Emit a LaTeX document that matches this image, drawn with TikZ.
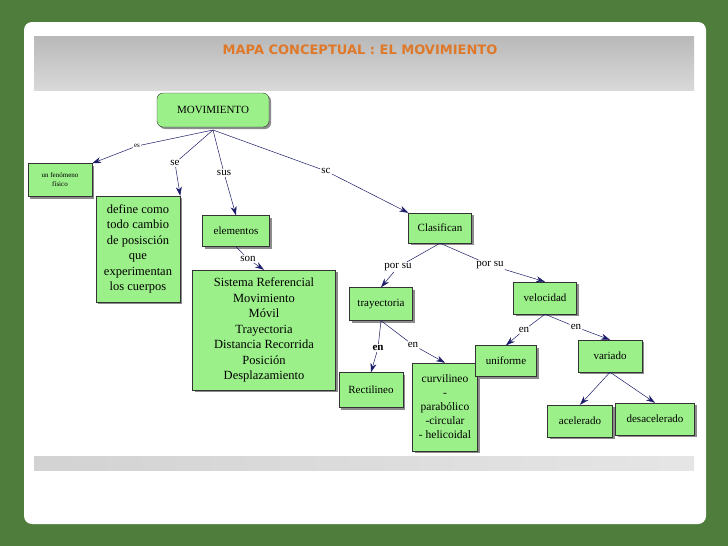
\documentclass[tikz,border=0pt]{standalone}
\usepackage{fontspec}
\setmainfont{Liberation Serif}
\newfontfamily\titlefont{DejaVu Sans}
\usetikzlibrary{arrows.meta,shadows}
\definecolor{bg}{HTML}{4F7D3C}
\definecolor{box}{HTML}{9CF08A}
\definecolor{arr}{HTML}{1C1C6A}
\definecolor{ttl}{HTML}{E0782A}
\tikzset{
 cbox/.style={draw=black!80,fill=box,align=center,inner sep=3pt,font=\fontsize{11}{13}\selectfont,drop shadow={shadow xshift=2pt,shadow yshift=-2pt,fill=black!45,opacity=1}},
 lbl/.style={inner sep=1pt,font=\fontsize{11}{12}\selectfont},
 ln/.style={draw=arr,line width=0.5pt},
 ar/.style={draw=arr,line width=0.5pt,-{Stealth[length=9pt,width=6pt]}}
}
\begin{document}
\begin{tikzpicture}[x=1pt,y=-1pt]
\useasboundingbox (0,0) rectangle (728,546);
\fill[bg] (0,0) rectangle (728,546);
\fill[white,rounded corners=8pt] (24,22) rectangle (706,524);
\shade[top color=gray!55,bottom color=gray!30] (34,36) rectangle (694,90);
\shade[left color=gray!35,right color=gray!20] (34,456) rectangle (694,470);
\node[font=\titlefont\bfseries\fontsize{13}{15}\selectfont,text=ttl] (title) at (360,50) {MAPA CONCEPTUAL : EL MOVIMIENTO};

\node[cbox,rounded corners=6pt,minimum width=112pt,minimum height=34pt] (mov) at (213,110) {MOVIMIENTO};
\node[cbox,minimum width=64pt,minimum height=33pt,font=\fontsize{7}{9}\selectfont] (fen) at (60,180) {un fenómeno\\físico};
\node[cbox,minimum width=84pt,minimum height=106pt,font=\fontsize{12.5}{15.5}\selectfont] (def) at (138,249) {define como\\todo cambio\\de posisción\\que\\experimentan\\los cuerpos};
\node[cbox,minimum width=67pt,minimum height=31pt] (ele) at (236,231) {elementos};
\node[cbox,minimum width=143pt,minimum height=120pt,font=\fontsize{12.5}{15.5}\selectfont] (sis) at (264,330) {Sistema Referencial\\Movimiento\\Móvil\\Trayectoria\\Distancia Recorrida\\Posición\\Desplazamiento};
\node[cbox,minimum width=63pt,minimum height=30pt] (cla) at (440,228) {Clasifican};
\node[cbox,minimum width=63pt,minimum height=33pt] (tra) at (381,304) {trayectoria};
\node[cbox,minimum width=64pt,minimum height=35pt] (rec) at (371,390) {Rectilineo};
\node[cbox,minimum width=65pt,minimum height=88pt,font=\fontsize{11.5}{14}\selectfont] (cur) at (445,407) {curvilineo\\-\\parabólico\\-circular\\- helicoidal};
\node[cbox,minimum width=63pt,minimum height=32pt] (vel) at (545,298) {velocidad};
\node[cbox,minimum width=61pt,minimum height=31pt] (uni) at (506,361) {uniforme};
\node[cbox,minimum width=64pt,minimum height=32pt] (var) at (610,356) {variado};
\node[cbox,minimum width=65pt,minimum height=32pt] (ace) at (580,421) {acelerado};
\node[cbox,minimum width=79pt,minimum height=32pt] (des) at (655,419) {desacelerado};

\coordinate (mb) at (213,130);
\node[lbl,font=\fontsize{7}{8}\selectfont] (les) at (137,146) {es};
\node[lbl] (lse) at (175,163) {se};
\node[lbl] (lsus) at (224,173) {sus};
\node[lbl] (lsc) at (326,171) {sc};
\node[lbl] (lson) at (248,259) {son};
\node[lbl] (lp1) at (398,267) {por su};
\node[lbl] (lp2) at (490,265) {por su};
\node[lbl,font=\bfseries\fontsize{11}{12}\selectfont] (le1) at (378,348) {en};
\node[lbl] (le2) at (413,345) {en};
\node[lbl] (le3) at (524,330) {en};
\node[lbl] (le4) at (576,327) {en};

\draw[ln] (mb) -- (les); \draw[ar] (les) -- (fen.north east);
\draw[ln] (mb) -- (lse); \draw[ar] (lse) -- (def.north east);
\draw[ln] (mb) -- (lsus); \draw[ar] (lsus) -- (ele.north);
\draw[ln] (mb) -- (lsc); \draw[ar] (lsc) -- (cla.north west);
\draw[ln] (ele.south) -- (lson); \draw[ar] (lson) -- (sis.north);
\draw[ln] (cla.south) -- (lp1); \draw[ar] (lp1) -- (tra.north);
\draw[ln] (cla.south) -- (lp2); \draw[ar] (lp2) -- (vel.north);
\draw[ln] (tra.south) -- (le1); \draw[ar] (le1) -- (rec.north);
\draw[ln] (tra.south) -- (le2); \draw[ar] (le2) -- (cur.north);
\draw[ln] (vel.south) -- (le3); \draw[ar] (le3) -- (uni.north);
\draw[ln] (vel.south) -- (le4); \draw[ar] (le4) -- (var.north);
\draw[ar] (var.south) -- (ace.north);
\draw[ar] (var.south) -- (des.north);
\end{tikzpicture}
\end{document}
